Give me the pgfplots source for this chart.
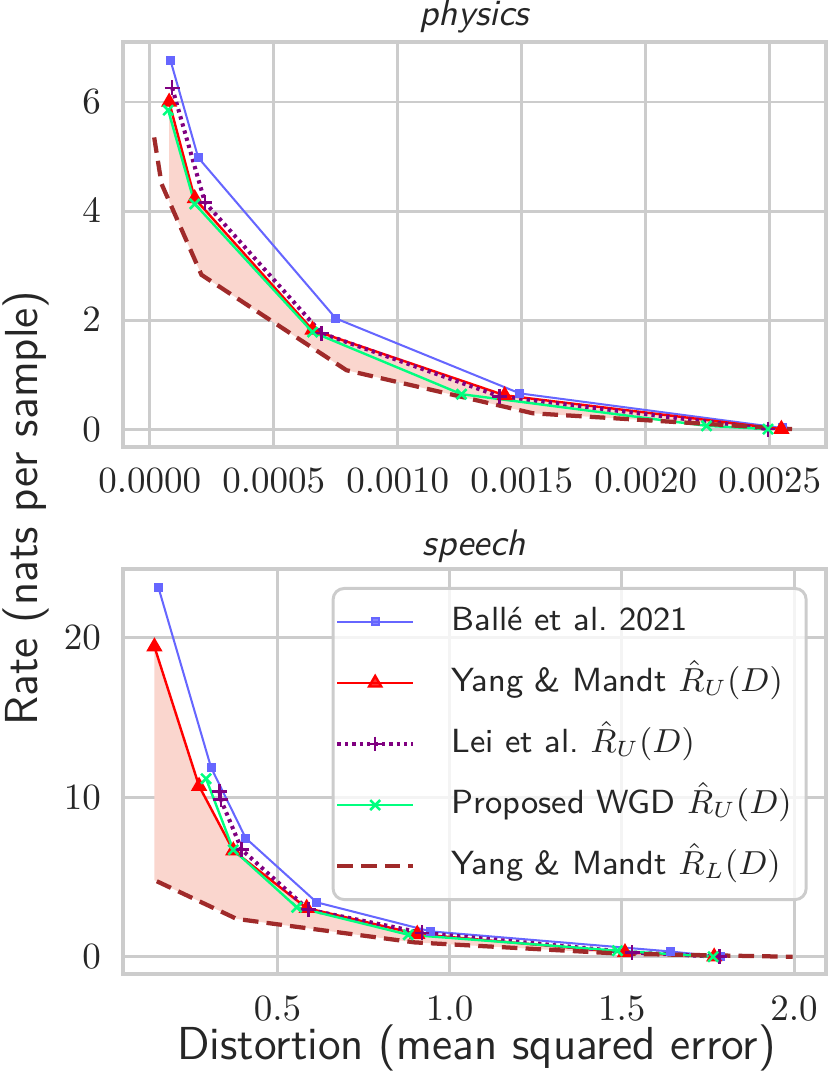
\documentclass[border=0pt]{standalone}
\usepackage{fontspec}
\usepackage{pgfplots}
\pgfplotsset{compat=1.18}
\definecolor{gridgray}{RGB}{204,204,204}
\definecolor{balleblue}{RGB}{102,102,255}
\definecolor{ymred}{RGB}{255,0,0}
\definecolor{leipurple}{RGB}{128,0,128}
\definecolor{wgdgreen}{RGB}{0,255,127}
\definecolor{lbbrown}{RGB}{160,42,42}
\definecolor{fillsalmon}{RGB}{250,214,206}
\definecolor{textgray}{RGB}{38,38,38}
\pgfplotsset{
  rdstyle/.style={
    scale only axis,
    width=190pt, height=109.5pt,
    axis line style={gridgray, line width=1pt},
    grid=major,
    major grid style={gridgray, line width=0.8pt},
    tick style={draw=none},
    major tick length=0pt,
    tick label style={font=\fontsize{10}{12}\selectfont, text=textgray},
    xticklabel style={yshift=-2.4pt},
    yticklabel style={xshift=-2.4pt},
    title style={font=\fontsize{10}{12}\sffamily\itshape, text=textgray, at={(0.5,1)}, anchor=base, yshift=-1.5pt},
    legend image code/.code={\draw[mark repeat=2,mark phase=2] plot coordinates {(0pt,0pt) (10.2pt,0pt) (20.4pt,0pt)};},
  },
  balle/.style={balleblue, line width=0.55pt, mark=square*, mark size=0.95pt, mark options={solid}},
  ymu/.style={ymred, line width=0.65pt, mark=triangle*, mark size=1.9pt, mark options={solid}},
  lei/.style={leipurple, line width=1.1pt, dash pattern=on 0.9pt off 1.1pt, mark=+, mark size=2pt, mark options={solid, line width=0.7pt}},
  wgd/.style={wgdgreen, line width=0.65pt, mark=x, mark size=1.9pt, mark options={solid, line width=0.7pt}},
  yml/.style={lbbrown, line width=1.15pt, dash pattern=on 4.2pt off 2.2pt},
  gapfill/.style={fill=fillsalmon, draw=none, forget plot},
}
\begin{document}
\begin{tikzpicture}
\path[use as bounding box] (-33.2pt,11.35pt) rectangle (191.1pt,-278.4pt);
% ---------------- physics ----------------
\begin{axis}[rdstyle,
  at={(0pt,0pt)}, anchor=north west,
  title={physics},
  xmin=-0.000109, xmax=0.002726,
  ymin=-0.33, ymax=7.1,
  xtick={0,0.0005,0.001,0.0015,0.002,0.0025},
  ytick={0,2,4,6},
  scaled x ticks=false,
  xticklabel style={/pgf/number format/.cd, fixed, fixed zerofill, precision=4},
]
% gap between the upper and lower bound of Yang & Mandt
\addplot[gapfill] coordinates {(0.0000778,6.0) (0.000181,4.23) (0.000656,1.82) (0.001431,0.62) (0.002547,0.0)
  (0.002547,0.012) (0.001545,0.29) (0.000793,1.08) (0.000208,2.83) (0.0000778,4.18)} -- cycle;
\addplot[balle] coordinates {(0.0000834,6.76) (0.000195,4.98) (0.00075,2.03) (0.001492,0.655) (0.00255,0.02)};
\addplot[ymu] coordinates {(0.0000778,6.0) (0.000181,4.23) (0.000656,1.82) (0.001431,0.62) (0.002547,0.0)};
\addplot[lei] coordinates {(0.00009,6.26) (0.000222,4.16) (0.000692,1.76) (0.001411,0.6) (0.002493,0.0)};
\addplot[wgd] coordinates {(0.0000739,5.85) (0.000181,4.13) (0.000656,1.78) (0.001257,0.64) (0.002245,0.06) (0.002493,0.0)};
\addplot[yml] coordinates {(0.0000175,5.35) (0.000047,4.5) (0.000208,2.83) (0.000793,1.08) (0.001545,0.29) (0.00259,0.0)};
\end{axis}
% ---------------- speech ----------------
\begin{axis}[rdstyle,
  at={(0pt,-142.5pt)}, anchor=north west,
  title={speech},
  title style={yshift=-0.8pt},
  xmin=0.0513, xmax=2.092,
  ymin=-1.1, ymax=24.27,
  xtick={0.5,1,1.5,2},
  ytick={0,10,20},
  xticklabel style={/pgf/number format/.cd, fixed, fixed zerofill, precision=1},
  legend cell align=left,
  legend style={at={(axis description cs:1,1)}, anchor=north east, xshift=-4.9pt, yshift=-4.8pt,
    font=\fontsize{9.05}{11}\sffamily, text=textgray,
    draw=gridgray, line width=0.8pt, rounded corners=3pt,
    fill=white, fill opacity=0.8, text opacity=1,
    inner xsep=0.6pt, inner ysep=0.8pt, row sep=0pt,
    nodes={inner sep=3.3pt, text height=7.3pt, text depth=2.6pt},
    /tikz/every odd column/.append style={column sep=6.6pt},
  },
]
\addplot[gapfill] coordinates {(0.143,19.42) (0.2727,10.69) (0.372,6.65) (0.585,3.05) (0.906,1.42) (1.509,0.27) (1.768,0.0)
  (1.768,0.087) (1.5,0.19) (0.899,0.9) (0.382,2.37) (0.15,4.73) (0.143,4.80)} -- cycle;
\addplot[balle] coordinates {(0.1547,23.12) (0.3075,11.85) (0.408,7.43) (0.614,3.41) (0.945,1.59) (1.642,0.33) (1.786,0.0)};
\addlegendentry{Ballé et al.\ 2021}
\addplot[ymu] coordinates {(0.143,19.42) (0.2727,10.69) (0.372,6.65) (0.585,3.05) (0.906,1.42) (1.509,0.27) (1.768,0.0)};
\addlegendentry{Yang \& Mandt $\hat{R}_U(D)$}
\addplot[lei] coordinates {(0.332,10.36) (0.336,9.84) (0.3966,6.7) (0.59,2.95) (0.92,1.5) (1.53,0.27) (1.784,0.0)};
\addlegendentry{Lei et al.\ $\hat{R}_U(D)$}
\addplot[wgd] coordinates {(0.293,11.15) (0.372,6.7) (0.556,3.1) (0.88,1.38) (1.487,0.38) (1.765,0.0)};
\addlegendentry{Proposed WGD $\hat{R}_U(D)$}
\addplot[yml] coordinates {(0.15,4.73) (0.382,2.37) (0.899,0.9) (1.5,0.19) (1.996,0.0)};
\addlegendentry{Yang \& Mandt $\hat{R}_L(D)$}
\end{axis}
\node[rotate=90, anchor=center, font=\fontsize{12.5}{14}\sffamily, text=textgray] at (-26.3pt,-126pt) {Rate (nats per sample)};
\node[anchor=base west, font=\fontsize{12.5}{14}\sffamily, text=textgray] at (11.2pt,-275.1pt) {Distortion (mean squared error)};
\end{tikzpicture}
\end{document}
